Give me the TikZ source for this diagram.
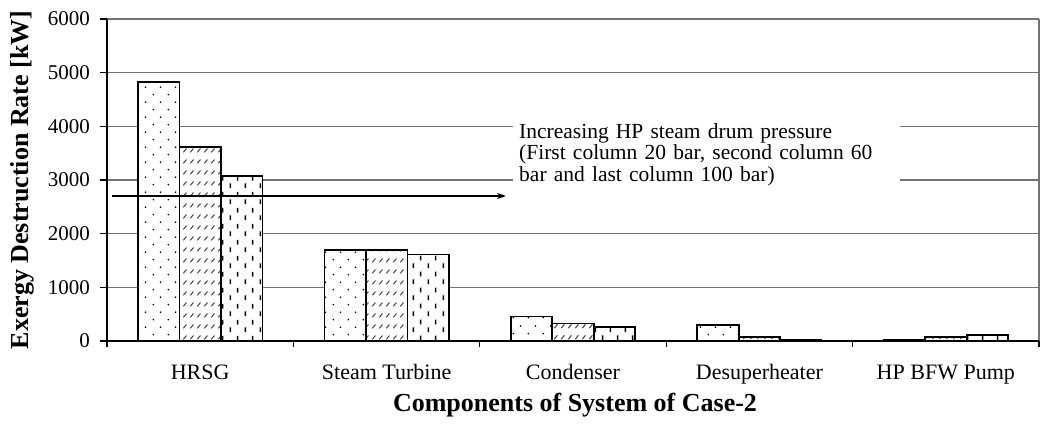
\documentclass[tikz,border=0pt]{standalone}
\usepackage{fontspec}
\setmainfont{Liberation Serif}
\usetikzlibrary{patterns.meta,arrows.meta}

\pgfdeclarepattern{
  name=bardots, type=uncolored,
  bottom left={\pgfpoint{0pt}{0pt}}, top right={\pgfpoint{15pt}{15.4pt}},
  tile size={\pgfpoint{15pt}{15.4pt}},
  code={
    \pgfpathcircle{\pgfpoint{3.5pt}{3.5pt}}{0.95pt}
    \pgfpathcircle{\pgfpoint{11pt}{11.2pt}}{0.95pt}
    \pgfusepath{fill}
  }
}
\pgfdeclarepattern{
  name=bardiag, type=uncolored,
  bottom left={\pgfpoint{0pt}{0pt}}, top right={\pgfpoint{7pt}{11pt}},
  tile size={\pgfpoint{7pt}{11pt}},
  code={
    \pgfsetlinewidth{1.1pt}
    \pgfpathmoveto{\pgfpoint{1.5pt}{3pt}}
    \pgfpathlineto{\pgfpoint{5pt}{7pt}}
    \pgfusepath{stroke}
  }
}
\pgfdeclarepattern{
  name=barvert, type=uncolored,
  bottom left={\pgfpoint{0pt}{0pt}}, top right={\pgfpoint{15.2pt}{16pt}},
  tile size={\pgfpoint{15.2pt}{16pt}},
  code={
    \pgfsetlinewidth{1.7pt}
    \pgfpathmoveto{\pgfpoint{3.5pt}{2pt}}
    \pgfpathlineto{\pgfpoint{3.5pt}{7pt}}
    \pgfpathmoveto{\pgfpoint{11.1pt}{10pt}}
    \pgfpathlineto{\pgfpoint{11.1pt}{15pt}}
    \pgfusepath{stroke}
  }
}

\tikzset{
  gridline/.style={draw=black!55, line width=1.1pt},
  axisline/.style={draw=black, line width=1.2pt},
  barbox/.style={draw=black, line width=1.7pt, preaction={fill=white}},
  ticklabel/.style={anchor=east, inner sep=0pt, font=\fontsize{21}{21}\selectfont},
  catlabel/.style={anchor=base, inner sep=0pt, font=\fontsize{22}{22}\selectfont},
  axistitle/.style={inner sep=0pt, font=\fontsize{26}{26}\selectfont\bfseries},
  notetext/.style={fill=white, anchor=north west, inner sep=6pt, align=left,
    text width=375pt, font=\fontsize{21.5}{21.5}\selectfont},
  arrowline/.style={draw=black, line width=1.4pt, -{Stealth[length=9pt,width=6pt]}}
}

\begin{document}
\begin{tikzpicture}[x=1pt,y=-1pt]
\useasboundingbox[fill=white] (0,0) rectangle (1041,430);

% gridlines and tick labels
\foreach \v in {1000,2000,3000,4000,5000,6000}{
  \draw[gridline] (107,{341-\v*0.0536667}) -- (1039,{341-\v*0.0536667});
}
\draw[gridline] (1039,19) -- (1039,341);
\foreach \v in {0,1000,2000,3000,4000,5000,6000}{
  \draw[axisline] (100,{341-\v*0.0536667}) -- (107,{341-\v*0.0536667});
  \node[ticklabel] (tl\v) at (90,{341-\v*0.0536667}) {\v};
}

% bars
\foreach \i/\a/\b/\c in {0/4820/3610/3070, 1/1700/1695/1610, 2/455/325/260, 3/300/80/22, 4/28/80/106}{
  \pgfmathsetmacro\cx{107+186.4*(\i+0.5)}
  \draw[barbox, pattern={bardots}] ({\cx-62.2},341) rectangle ({\cx-20.7},{341-\a*0.0536667});
  \draw[barbox, pattern={bardiag}, pattern color=black!75] ({\cx-20.7},341) rectangle ({\cx+20.8},{341-\b*0.0536667});
  \draw[barbox, pattern={barvert}] ({\cx+20.8},341) rectangle ({\cx+62.2},{341-\c*0.0536667});
}

% axes
\draw[axisline] (107,19) -- (107,347);
\draw[axisline] (100,341) -- (1039,341);
\foreach \k in {1,2,3,4,5}{
  \draw[axisline] ({107+186.4*\k},341) -- ({107+186.4*\k},347);
}

% category labels
\node[catlabel] (c1) at (200.2,379.5) {HRSG};
\node[catlabel] (c2) at (386.6,379.5) {Steam Turbine};
\node[catlabel] (c3) at (573,379.5) {Condenser};
\node[catlabel] (c4) at (759.4,379.5) {Desuperheater};
\node[catlabel] (c5) at (945.8,379.5) {HP BFW Pump};

% axis titles
\node[axistitle] (xtitle) at (575,405) {Components of System of Case-2};
\node[axistitle, rotate=90] (ytitle) at (22,180) {Exergy Destruction Rate [kW]};

% annotation
\node[notetext] (note) at (513,117) {Increasing HP steam drum pressure\\(First column 20 bar, second column 60\\bar and last column 100 bar)};
\coordinate (astart) at (112,196);
\coordinate (aend) at (506,196);
\draw[arrowline] (astart) -- (aend);
\end{tikzpicture}
\end{document}
